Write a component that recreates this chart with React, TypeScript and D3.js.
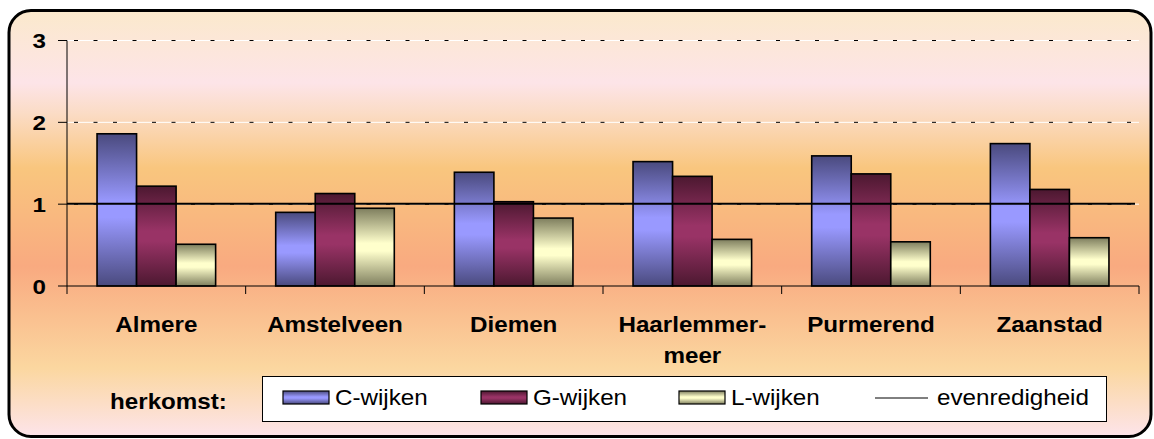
import React from "react";
import * as d3 from "d3";

const categories = ["Almere", "Amstelveen", "Diemen", "Haarlemmermeer", "Purmerend", "Zaanstad"];
const categoryLines = [["Almere"], ["Amstelveen"], ["Diemen"], ["Haarlemmer-", "meer"], ["Purmerend"], ["Zaanstad"]];
const seriesNames = ["C-wijken", "G-wijken", "L-wijken"];
const cValues = [1.86, 0.9, 1.39, 1.52, 1.59, 1.74];
const gValues = [1.22, 1.13, 1.03, 1.34, 1.37, 1.18];
const lValues = [0.51, 0.95, 0.83, 0.57, 0.54, 0.59];
const evenredigheid = 1;
const yTicks = [0, 1, 2, 3];
const legendTitle = "herkomst:";
const lineName = "evenredigheid";

const seriesValues = [cValues, gValues, lValues];
const gradColors = [
  ["#4a4a7e", "#9999ff"],
  ["#4c1830", "#993366"],
  ["#7e7e5e", "#ffffcc"],
];

const W = 1154, H = 439;
const FONT = "'Liberation Sans', Arial, sans-serif";

export default function App() {
  const x = d3.scaleBand<string>().domain(categories).range([67, 1139]).padding(0);
  const xs = d3.scaleBand<string>().domain(seriesNames).range([0, x.bandwidth()]).paddingInner(0).paddingOuter(0.76);
  const y = d3.scaleLinear().domain([0, 3]).range([286, 40.5]);
  const x0 = 67, x1 = 1139;

  return (
    <svg width={W} height={H} style={{ position: "absolute", left: 0, top: 0 }} fontFamily={FONT}>
      <defs>
        <linearGradient id="bg" x1="0" y1="0" x2="0" y2="1">
          <stop offset="0" stopColor="#fbe9cc" />
          <stop offset="0.17" stopColor="#fde4e8" />
          <stop offset="0.24" stopColor="#fbdcc6" />
          <stop offset="0.37" stopColor="#f9c67e" />
          <stop offset="0.6" stopColor="#f9aa80" />
          <stop offset="0.84" stopColor="#fbd7a0" />
          <stop offset="1" stopColor="#fde4ea" />
        </linearGradient>
        {gradColors.map((c, i) => (
          <linearGradient key={i} id={`g${i}`} x1="0" y1="0" x2="0" y2="1">
            <stop offset="0" stopColor={c[0]} />
            <stop offset="0.45" stopColor={c[1]} />
            <stop offset="0.55" stopColor={c[1]} />
            <stop offset="1" stopColor={c[0]} />
          </linearGradient>
        ))}
      </defs>
      <rect x={9} y={10.5} width={1142} height={426} rx={22} ry={22} fill="url(#bg)" stroke="#000" strokeWidth={3} />

      {/* gridlines */}
      {yTicks.filter((t) => t > 0).map((t) => (
        <g key={t}>
          <line x1={x0} x2={x1} y1={y(t)} y2={y(t)} stroke="#fff" strokeWidth={1} />
          <line x1={x0 + 7} x2={x1} y1={y(t)} y2={y(t)} stroke="#000" strokeWidth={1} strokeDasharray="4,15.5" />
        </g>
      ))}

      {/* bars */}
      {categories.map((cat, ci) => (
        <g key={cat}>
          {seriesNames.map((s, si) => {
            const v = seriesValues[si][ci];
            const bx = (x(cat) as number) + (xs(s) as number);
            return (
              <rect key={s} x={bx} y={y(v)} width={xs.bandwidth()} height={y(0) - y(v)}
                fill={`url(#g${si})`} stroke="#000" strokeWidth={1.6} />
            );
          })}
        </g>
      ))}

      {/* axes */}
      <line x1={x0} x2={x0} y1={y(3)} y2={y(0)} stroke="#000" strokeWidth={1} />
      {yTicks.map((t) => (
        <g key={t}>
          <line x1={58} x2={x0} y1={y(t)} y2={y(t)} stroke="#000" strokeWidth={1} />
          <text transform={`translate(46,${y(t) + 7.5}) scale(1.15,1)`} textAnchor="end" fontSize={21} fontWeight="bold">{t}</text>
        </g>
      ))}
      <line x1={x0} x2={x1} y1={y(0)} y2={y(0)} stroke="#000" strokeWidth={1} />
      {[...categories.map((c) => x(c) as number), x1].map((tx, i) => (
        <line key={i} x1={tx} x2={tx} y1={y(0)} y2={y(0) + 8} stroke="#000" strokeWidth={1} />
      ))}

      {/* evenredigheid line */}
      <line x1={x0} x2={1135} y1={y(evenredigheid) - 0.5} y2={y(evenredigheid) - 0.5} stroke="#000" strokeWidth={2} />

      {/* category labels */}
      {categories.map((cat, ci) => (
        <g key={cat} transform={`translate(${(x(cat) as number) + x.bandwidth() / 2},0)`}>
          {categoryLines[ci].map((ln, li) => (
            <text key={li} transform={`translate(0,${331.5 + li * 31.5}) scale(1.1,1)`} textAnchor="middle" fontSize={22} fontWeight="bold">{ln}</text>
          ))}
        </g>
      ))}

      {/* legend */}
      <text transform="translate(110,408.5) scale(1.1,1)" fontSize={22} fontWeight="bold">{legendTitle}</text>
      <rect x={262.5} y={376.5} width={844} height={45} fill="#fff" stroke="#000" strokeWidth={1} />
      {seriesNames.map((s, si) => {
        const lx = 283 + si * 198;
        return (
          <g key={s}>
            <rect x={lx} y={391} width={46} height={13} fill={`url(#g${si})`} stroke="#000" strokeWidth={1.2} />
            <text transform={`translate(${lx + 52},404.5) scale(1.1,1)`} fontSize={22}>{s}</text>
          </g>
        );
      })}
      <line x1={875} x2={928} y1={398} y2={398} stroke="#000" strokeWidth={1} />
      <text transform="translate(937,404.5) scale(1.1,1)" fontSize={22}>{lineName}</text>
    </svg>
  );
}
